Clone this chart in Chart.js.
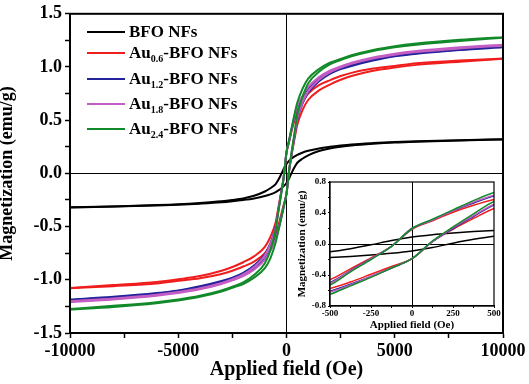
<!DOCTYPE html>
<html>
<head>
<meta charset="utf-8">
<script src="https://cdn.jsdelivr.net/npm/chart.js@4.4.0/dist/chart.umd.min.js"></script>
<style>
  html, body { margin: 0; padding: 0; background: #fff; }
  #wrap { position: relative; width: 529px; height: 384px; }
  #main { position: absolute; left: 0; top: 0; }
  #inset { position: absolute; left: 294px; top: 174px; }
  #legend { position: absolute; left: 0; top: 0; font-family: "Liberation Serif", "Times New Roman", serif; font-weight: bold; font-size: 17px; color: #000; }
  .row { position: absolute; left: 87px; display: flex; align-items: center; height: 20px; margin-top: -10px; white-space: nowrap; }
  .swatch { width: 38px; height: 2px; margin-right: 4px; }
  sub { font-size: 10px; vertical-align: -4px; line-height: 0; }
</style>
</head>
<body>
<div id="wrap">
  <canvas id="main" width="529" height="384"></canvas>
  <canvas id="inset" width="208" height="158"></canvas>
  <div id="legend"></div>
</div>
<script>
// applied field (Oe), same grid for both branches
const fieldOe = [-10000, -8000, -6000, -5000, -4000, -3000, -2500, -2000, -1500, -1000, -750, -500, -375, -250, -125,
  0, 125, 250, 375, 500, 750, 1000, 1500, 2000, 2500, 3000, 4000, 5000, 6000, 8000, 10000];

// "down" = field sweeping from +10 kOe (upper curve), "up" = sweeping from -10 kOe (lower curve)
const bfoDown = [-0.318, -0.310, -0.298, -0.290, -0.278, -0.262, -0.250, -0.235, -0.210, -0.170, -0.140, -0.100, -0.060, -0.010, 0.045,
  0.090, 0.120, 0.142, 0.160, 0.175, 0.197, 0.213, 0.235, 0.250, 0.262, 0.272, 0.285, 0.295, 0.302, 0.312, 0.320];
const bfoUp = [-0.320, -0.312, -0.302, -0.295, -0.285, -0.272, -0.262, -0.250, -0.235, -0.213, -0.197, -0.175, -0.160, -0.142, -0.120,
  -0.090, -0.045, 0.010, 0.060, 0.100, 0.140, 0.170, 0.210, 0.235, 0.250, 0.262, 0.278, 0.290, 0.298, 0.310, 0.318];

const au06Down = [-1.078, -1.050, -1.020, -0.995, -0.965, -0.915, -0.880, -0.835, -0.780, -0.690, -0.600, -0.460, -0.320, -0.180, -0.030,
  0.190, 0.300, 0.410, 0.500, 0.575, 0.670, 0.750, 0.830, 0.875, 0.915, 0.945, 0.985, 1.010, 1.035, 1.060, 1.080];
const au06Up = [-1.080, -1.060, -1.035, -1.010, -0.985, -0.945, -0.915, -0.875, -0.830, -0.750, -0.670, -0.575, -0.490, -0.390, -0.290,
  -0.190, 0.030, 0.190, 0.330, 0.460, 0.600, 0.690, 0.780, 0.835, 0.880, 0.915, 0.965, 0.995, 1.020, 1.050, 1.078];

const au12Down = [-1.185, -1.160, -1.125, -1.100, -1.060, -1.010, -0.980, -0.935, -0.865, -0.760, -0.660, -0.500, -0.345, -0.190, -0.030,
  0.200, 0.310, 0.430, 0.530, 0.620, 0.720, 0.800, 0.890, 0.950, 0.990, 1.020, 1.070, 1.105, 1.130, 1.165, 1.190];
const au12Up = [-1.190, -1.165, -1.130, -1.105, -1.070, -1.020, -0.990, -0.950, -0.890, -0.800, -0.720, -0.610, -0.520, -0.420, -0.310,
  -0.190, 0.030, 0.200, 0.355, 0.505, 0.660, 0.760, 0.865, 0.935, 0.980, 1.010, 1.060, 1.100, 1.125, 1.160, 1.185];

const au18Down = [-1.200, -1.175, -1.140, -1.115, -1.080, -1.030, -0.995, -0.950, -0.880, -0.770, -0.670, -0.510, -0.350, -0.190, -0.030,
  0.200, 0.310, 0.430, 0.540, 0.630, 0.730, 0.810, 0.905, 0.965, 1.005, 1.040, 1.090, 1.125, 1.150, 1.185, 1.210];
const au18Up = [-1.210, -1.185, -1.150, -1.125, -1.090, -1.040, -1.005, -0.965, -0.905, -0.810, -0.730, -0.620, -0.530, -0.420, -0.310,
  -0.190, 0.030, 0.210, 0.365, 0.515, 0.670, 0.770, 0.880, 0.950, 0.995, 1.030, 1.080, 1.115, 1.140, 1.175, 1.200];

const au24Down = [-1.275, -1.245, -1.210, -1.185, -1.150, -1.100, -1.065, -1.025, -0.955, -0.845, -0.725, -0.530, -0.360, -0.200, -0.030,
  0.200, 0.320, 0.440, 0.560, 0.665, 0.800, 0.890, 0.980, 1.040, 1.075, 1.110, 1.160, 1.195, 1.220, 1.255, 1.280];
const au24Up = [-1.280, -1.255, -1.220, -1.195, -1.160, -1.110, -1.075, -1.040, -0.980, -0.890, -0.800, -0.650, -0.540, -0.430, -0.310,
  -0.190, 0.040, 0.220, 0.390, 0.550, 0.725, 0.845, 0.955, 1.025, 1.065, 1.100, 1.150, 1.185, 1.210, 1.245, 1.275];

const sampleLabels = ['BFO NFs', 'Au<sub>0.6</sub>-BFO NFs', 'Au<sub>1.2</sub>-BFO NFs', 'Au<sub>1.8</sub>-BFO NFs', 'Au<sub>2.4</sub>-BFO NFs'];
const sampleColors = ['#000000', '#f01d1d', '#23239a', '#c45ec4', '#138a2a'];
const downBranches = [bfoDown, au06Down, au12Down, au18Down, au24Down];
const upBranches = [bfoUp, au06Up, au12Up, au18Up, au24Up];

const serif = '"Liberation Serif", "Times New Roman", serif';
Chart.defaults.font.family = serif;
Chart.defaults.font.weight = 'bold';
Chart.defaults.color = '#000';

function branch(values) {
  return fieldOe.map((h, i) => ({ x: h, y: values[i] }));
}

function buildDatasets(width) {
  const sets = [];
  sampleLabels.forEach((name, i) => {
    [downBranches[i], upBranches[i]].forEach(vals => {
      sets.push({
        label: name.replace(/<\/?sub>/g, ''),
        data: branch(vals),
        borderColor: sampleColors[i],
        borderWidth: width,
        pointRadius: 0,
        cubicInterpolationMode: 'monotone',
        order: 10 - i
      });
    });
  });
  return sets;
}

// only the zero lines are drawn inside the plot
const zeroLine = ctx => (ctx.tick && ctx.tick.value === 0) ? '#000' : 'rgba(0,0,0,0)';

const frame = {
  id: 'frame',
  afterDatasetsDraw(chart, args, opts) {
    const { ctx, chartArea: a } = chart;
    ctx.save();
    ctx.strokeStyle = '#000';
    ctx.lineWidth = opts.width;
    ctx.strokeRect(a.left, a.top, a.right - a.left, a.bottom - a.top);
    ctx.restore();
  }
};

new Chart(document.getElementById('main'), {
  type: 'line',
  data: { datasets: buildDatasets(2) },
  plugins: [frame],
  options: {
    responsive: false,
    animation: false,
    layout: { padding: { top: 11, right: 26, left: 0, bottom: 0 } },
    plugins: { legend: { display: false }, tooltip: { enabled: false }, frame: { width: 2 } },
    scales: {
      x: {
        type: 'linear', min: -10000, max: 10000,
        ticks: {
          stepSize: 2500, autoSkip: false, maxRotation: 0, padding: 3,
          font: { size: 18 },
          callback: v => (v % 5000 === 0 ? String(v) : '')
        },
        grid: { color: zeroLine, lineWidth: 1, tickLength: 5, tickColor: '#000', tickWidth: 1.5 },
        border: { color: '#000', width: 2 },
        title: { display: true, text: 'Applied field (Oe)', font: { size: 20 }, padding: { top: 0, bottom: 2 } },
        afterFit: s => { s.height = 51; }
      },
      y: {
        min: -1.5, max: 1.5,
        ticks: {
          stepSize: 0.25, autoSkip: false, padding: 3,
          font: { size: 18 },
          callback: v => (Math.abs(v * 2 - Math.round(v * 2)) < 1e-9 ? v.toFixed(1) : '')
        },
        grid: { color: zeroLine, lineWidth: 1, tickLength: 5, tickColor: '#000', tickWidth: 1.5 },
        border: { color: '#000', width: 2 },
        title: { display: true, text: 'Magnetization (emu/g)', font: { size: 18, lineHeight: 1 }, padding: { top: -2, bottom: 0 } },
        afterFit: s => { s.width = 70; }
      }
    }
  }
});

new Chart(document.getElementById('inset'), {
  type: 'line',
  data: { datasets: buildDatasets(1.5) },
  plugins: [frame],
  options: {
    responsive: false,
    animation: false,
    layout: { padding: { top: 8, right: 8, left: 0, bottom: 0 } },
    plugins: { legend: { display: false }, tooltip: { enabled: false }, frame: { width: 1.2 } },
    scales: {
      x: {
        type: 'linear', min: -500, max: 500,
        ticks: {
          stepSize: 125, autoSkip: false, maxRotation: 0, padding: 0,
          font: { size: 9 },
          callback: v => (v % 250 === 0 ? String(v) : '')
        },
        grid: { color: zeroLine, lineWidth: 1, tickLength: 2, tickColor: '#000' },
        border: { color: '#000', width: 1.2 },
        title: { display: true, text: 'Applied field (Oe)', font: { size: 11 }, padding: { top: 0, bottom: 0 } },
        afterFit: s => { s.height = 26; }
      },
      y: {
        min: -0.8, max: 0.8,
        ticks: {
          stepSize: 0.2, autoSkip: false, padding: 2,
          font: { size: 9 },
          callback: v => (Math.abs(v / 0.4 - Math.round(v / 0.4)) < 1e-6 ? v.toFixed(1) : '')
        },
        grid: { color: zeroLine, lineWidth: 1, tickLength: 2, tickColor: '#000' },
        border: { color: '#000', width: 1.2 },
        title: { display: true, text: 'Magnetization (emu/g)', font: { size: 11 }, padding: { top: 2, bottom: 0 } },
        afterFit: s => { s.width = 36; }
      }
    }
  }
});

// legend with subscripts, top-left inside the main plot
const legendRowY = [32, 53, 78.5, 104, 129];
const legend = document.getElementById('legend');
sampleLabels.forEach((name, i) => {
  const row = document.createElement('div');
  row.className = 'row';
  row.style.top = legendRowY[i] + 'px';
  row.innerHTML = '<span class="swatch" style="background:' + sampleColors[i] + '"></span><span>' + name + '</span>';
  legend.appendChild(row);
});
</script>
</body>
</html>
